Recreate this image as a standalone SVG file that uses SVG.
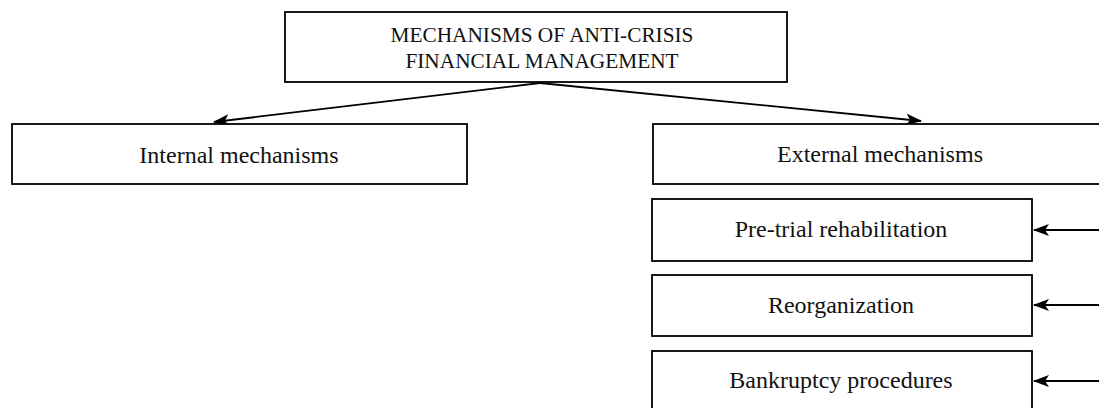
<svg xmlns="http://www.w3.org/2000/svg" width="1099" height="408" viewBox="0 0 1099 408">
  <style>
    .box { fill: #ffffff; stroke: #000000; stroke-width: 1.8; }
    .label { font-family: "Liberation Serif", "Times New Roman", serif; font-size: 24px; fill: #111111; text-anchor: middle; }
    .title { font-size: 21.3px; }
    .edge { stroke: #000000; stroke-width: 1.8; fill: none; marker-end: url(#arrow); }
  </style>
  <defs>
    <marker id="arrow" viewBox="0 0 16 12" refX="15" refY="6" markerWidth="16" markerHeight="12" markerUnits="userSpaceOnUse" orient="auto">
      <path d="M0,0 L16,6 L0,12 L4,6 Z" fill="#000000"/>
    </marker>
  </defs>
  <rect width="1099" height="408" fill="#ffffff"/>

  <g id="connectors">
    <line class="edge" x1="540" y1="83" x2="214" y2="122"/>
    <line class="edge" x1="540" y1="83" x2="921" y2="121"/>
    <line class="edge" x1="1099" y1="230" x2="1034" y2="230"/>
    <line class="edge" x1="1099" y1="305" x2="1034" y2="305"/>
    <line class="edge" x1="1099" y1="381" x2="1034" y2="381"/>
  </g>

  <g id="root">
    <rect class="box" x="285" y="12" width="502" height="70"/>
    <text class="label title" x="542" y="42">MECHANISMS OF ANTI-CRISIS</text>
    <text class="label title" x="542" y="68">FINANCIAL MANAGEMENT</text>
  </g>

  <g id="internal">
    <rect class="box" x="12" y="124" width="455" height="60"/>
    <text class="label" x="239" y="163">Internal mechanisms</text>
  </g>

  <g id="external">
    <rect class="box" x="653" y="124" width="460" height="60"/>
    <text class="label" x="880" y="162">External mechanisms</text>
  </g>

  <g id="pretrial">
    <rect class="box" x="652" y="199" width="380" height="62"/>
    <text class="label" x="841" y="237">Pre-trial rehabilitation</text>
  </g>

  <g id="reorganization">
    <rect class="box" x="652" y="275" width="380" height="61"/>
    <text class="label" x="841" y="313">Reorganization</text>
  </g>

  <g id="bankruptcy">
    <rect class="box" x="652" y="351" width="380" height="70"/>
    <text class="label" x="841" y="388">Bankruptcy procedures</text>
  </g>
</svg>
